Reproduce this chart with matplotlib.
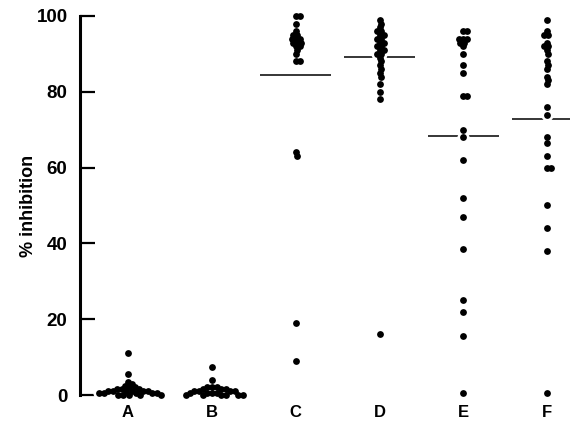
import numpy as np
import matplotlib
matplotlib.use("Agg")
import matplotlib.pyplot as plt

plt.rcParams['font.family'] = ['Liberation Sans', 'DejaVu Sans']

categories = ['A', 'B', 'C', 'D', 'E', 'F']
values_A = [11, 5.5, 3.5, 3, 2.5, 2, 2, 1.5, 1.5, 1.5, 1, 1, 1, 1, 1, 1,
            0.5, 0.5, 0.5, 0.5, 0.5, 0, 0, 0, 0, 0]
values_B = [7.5, 4, 2, 2, 2, 1.5, 1.5, 1.5, 1, 1, 1, 1, 0.5, 0.5, 0.5, 0.5,
            0, 0, 0, 0, 0, 0]
values_C = [100, 100, 98, 96, 95, 95, 94, 94, 94, 93, 93, 93, 92, 92, 91, 90,
            88, 88, 64, 63, 19, 9]
values_D = [99, 98, 97, 96, 96, 95, 95, 94, 94, 93, 93, 92, 92, 91, 91, 90,
            90, 89, 88, 87, 86, 85, 84, 82, 80, 78, 16]
values_E = [96, 96, 94, 94, 94, 93, 93, 92, 90, 87, 85, 79, 79, 70, 68, 62,
            52, 47, 38.5, 25, 22, 15.5, 0.5]
values_F = [99, 96, 95, 95, 93, 92, 92, 91, 90, 88, 87, 86, 84, 83, 82, 76,
            74, 68, 66.5, 63, 60, 60, 50, 44, 38, 0.5]
group_means = [1.2, 1.0, 84.5, 89.2, 68.3, 72.8]
yticks = [0, 20, 40, 60, 80, 100]

groups = [values_A, values_B, values_C, values_D, values_E, values_F]

W, H = 570, 423
fig = plt.figure(figsize=(W / 100, H / 100), dpi=100)
ax = fig.add_axes([80 / W, 28 / H, 490 / W, 379 / H])
xlo, xhi = 0.43, 6.27
ax.set_xlim(xlo, xhi)
ax.set_ylim(0, 100)

px_per_x = 490 / (xhi - xlo)
px_per_y = 379 / 100.0
dot_d = 6.5  # pixel diameter


def swarm(vals, center, sep):
    vals = sorted(vals, reverse=True)
    placed = []
    xs, ys = [], []
    for v in vals:
        yp = v * px_per_y
        best = None
        for k in range(0, 60):
            for sgn in ([0] if k == 0 else [1, -1]):
                off = sgn * k * 1.0
                ok = True
                for (px, py) in placed:
                    if (px - off) ** 2 + (py - yp) ** 2 < sep ** 2:
                        ok = False
                        break
                if ok:
                    best = off
                    break
            if best is not None:
                break
        if best is None:
            best = 0.0
        placed.append((best, yp))
        xs.append(center + best / px_per_x)
        ys.append(v)
    return xs, ys


for i, (vals, m) in enumerate(zip(groups, group_means)):
    c = i + 1
    hw = 0.28 if i < 2 else 0.42
    ax.plot([c - hw, c + hw], [m, m], color='black', lw=1.1, zorder=1,
            solid_capstyle='butt')
    sep = dot_d * (0.68 if i < 2 else 0.6)
    xs, ys = swarm(vals, c, sep)
    ax.scatter(xs, ys, s=75, color='white', lw=0, zorder=2, clip_on=False)
    ax.scatter(xs, ys, s=24, color='black', lw=0, zorder=3, clip_on=False)

for s in ['top', 'right', 'bottom']:
    ax.spines[s].set_visible(False)
ax.spines['left'].set_linewidth(2.2)
ax.set_yticks(yticks)
ax.set_yticklabels([str(t) for t in yticks], fontsize=13.5, fontweight='bold')
ax.tick_params(axis='y', direction='in', length=11, width=1.6, pad=9)
ax.set_xticks(range(1, 7))
ax.set_xticklabels(categories, fontsize=12, fontweight='bold')
ax.tick_params(axis='x', length=0, pad=7)
ax.set_ylabel('% inhibition', fontsize=13, fontweight='bold')
ax.yaxis.set_label_coords((37 - 80) / 490, 0.5)

fig.savefig('out.png', dpi=100)
